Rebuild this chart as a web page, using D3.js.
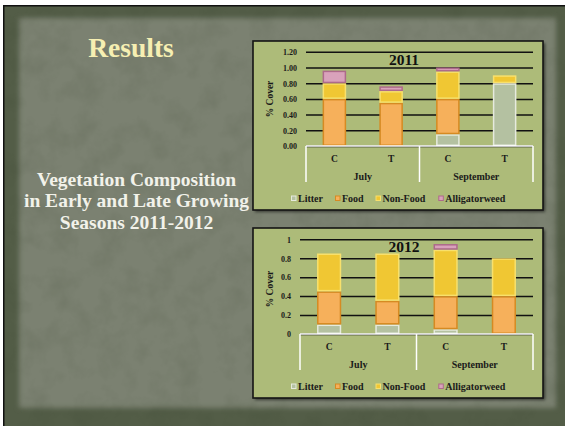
<!DOCTYPE html>
<html><head><meta charset="utf-8">
<script src="https://cdn.jsdelivr.net/npm/d3@7/dist/d3.min.js"></script>
<style>html,body{margin:0;padding:0;background:#fff;overflow:hidden}</style>
</head><body><svg id="c" width="565" height="426"></svg>
<script>
// ---- data ----
const categories = ["C", "T", "C", "T"];
const months = ["July", "September"];
const seriesNames = ["Litter", "Food", "Non-Food", "Alligatorweed"];
const litter2011 = [0, 0, 0.15, 0.80];
const food2011 = [0.60, 0.55, 0.45, 0];
const nonFood2011 = [0.20, 0.15, 0.35, 0.10];
const alligator2011 = [0.16, 0.06, 0.05, 0];
const litter2012 = [0.10, 0.10, 0.05, 0];
const food2012 = [0.35, 0.25, 0.35, 0.40];
const nonFood2012 = [0.40, 0.50, 0.49, 0.40];
const alligator2012 = [0, 0, 0.06, 0];
const ticks2011 = [0, 0.2, 0.4, 0.6, 0.8, 1.0, 1.2];
const tickLabels2011 = ["0.00", "0.20", "0.40", "0.60", "0.80", "1.00", "1.20"];
const ticks2012 = [0, 0.2, 0.4, 0.6, 0.8, 1];
const tickLabels2012 = ["0", "0.2", "0.4", "0.6", "0.8", "1"];
const slideTitle = "Results";
const subtitleLines = ["Vegetation Composition", "in Early and Late Growing", "Seasons 2011-2012"];

// ---- styles ----
const FONT = "'Liberation Serif', 'DejaVu Serif', serif";
const fills = ["#b4c1a1", "#f6b05b", "#f0c733", "#d9a2bb"];
const strokes = ["#e6eade", "#d68a22", "#f8e06c", "#ad6a8b"];

const svg = d3.select("#c");
const defs = svg.append("defs");
const soft = defs.append("filter").attr("id", "soft").attr("color-interpolation-filters", "sRGB")
  .attr("x", "-5%").attr("y", "-5%").attr("width", "110%").attr("height", "110%");
soft.append("feGaussianBlur").attr("stdDeviation", 2.5);
const tex = defs.append("filter").attr("id", "tex").attr("color-interpolation-filters", "sRGB")
  .attr("x", 0).attr("y", 0).attr("width", "100%").attr("height", "100%");
tex.append("feTurbulence").attr("type", "fractalNoise").attr("baseFrequency", 0.04).attr("numOctaves", 4).attr("seed", 9).attr("result", "n");
tex.append("feColorMatrix").attr("in", "n").attr("type", "matrix")
  .attr("values", "0 0 0 0 0.2  0 0 0 0 0.24  0 0 0 0 0.16  1.4 0 0 0 -0.6");
const shadow = defs.append("filter").attr("id", "shd").attr("x", "-10%").attr("y", "-10%").attr("width", "120%").attr("height", "120%");
shadow.append("feGaussianBlur").attr("stdDeviation", 1.5);

// ---- slide background ----
svg.append("rect").attr("width", 565).attr("height", 426).attr("fill", "#fff");
svg.append("rect").attr("x", 3).attr("y", 5).attr("width", 570).attr("height", 430).attr("fill", "#111");
svg.append("rect").attr("x", 4.5).attr("y", 6.5).attr("width", 570).attr("height", 430).attr("fill", "#535d47");
svg.append("rect").attr("x", 19).attr("y", 18).attr("width", 537).attr("height", 390)
  .attr("fill", "#7b8171").attr("filter", "url(#soft)");
svg.append("rect").attr("x", 4.5).attr("y", 6.5).attr("width", 570).attr("height", 430)
  .attr("filter", "url(#tex)").attr("opacity", 0.18);

// ---- slide texts ----
svg.append("text").attr("x", 131).attr("y", 57).attr("text-anchor", "middle")
  .attr("font-family", FONT).attr("font-weight", "bold").attr("font-size", 27.5)
  .attr("fill", "#f6efb2").text(slideTitle);
svg.append("g").selectAll("text").data(subtitleLines).join("text")
  .attr("x", 136.5).attr("y", (d, i) => 185.5 + i * 21.5).attr("text-anchor", "middle")
  .attr("font-family", FONT).attr("font-weight", "bold").attr("font-size", 19.5)
  .attr("fill", "#f2f2ea").text(d => d);

// ---- chart drawing ----
function drawChart(cfg) {
  const g = svg.append("g");
  const b = cfg.box;
  g.append("rect").attr("x", b.x + 2).attr("y", b.y + 2).attr("width", b.w).attr("height", b.h)
    .attr("fill", "rgba(0,0,0,0.55)").attr("filter", "url(#shd)");
  g.append("rect").attr("x", b.x).attr("y", b.y).attr("width", b.w).attr("height", b.h)
    .attr("fill", "#adbb79").attr("stroke", "#151515").attr("stroke-width", 1.6);

  const x = d3.scaleBand().domain(d3.range(categories.length)).range([cfg.x0, cfg.x1])
    .paddingInner(0.585).paddingOuter(0.2925);
  const y = d3.scaleLinear().domain([0, cfg.yMax]).range([cfg.y0, cfg.yTop]);

  // gridlines
  const grid = g.append("g").attr("transform", `translate(${cfg.x0},0)`)
    .call(d3.axisLeft(y).tickValues(cfg.ticks).tickSize(-(cfg.x1 - cfg.x0)).tickFormat(""));
  grid.select(".domain").remove();
  grid.selectAll("line").attr("stroke", "#111").attr("stroke-width", 1.5);

  // tick labels
  const ax = g.append("g").attr("transform", `translate(${cfg.tickX},0)`)
    .call(d3.axisLeft(y).tickValues(cfg.ticks).tickSize(0).tickPadding(0)
      .tickFormat((d, i) => cfg.tickLabels[i]));
  ax.select(".domain").remove();
  ax.selectAll("text").attr("font-family", FONT).attr("font-weight", "bold")
    .attr("font-size", 8).attr("fill", "#1a1a1a").attr("dy", "0.35em");

  // stacked bars
  const rows = categories.map((c, i) => {
    const r = { i: i };
    seriesNames.forEach((s, k) => r[s] = cfg.series[k][i]);
    return r;
  });
  const stacked = d3.stack().keys(seriesNames)(rows);
  stacked.forEach((layer, k) => {
    g.append("g").selectAll("rect").data(layer.filter(d => d[1] - d[0] > 0)).join("rect")
      .attr("x", d => x(d.data.i) + 0.75).attr("width", x.bandwidth() - 1.5)
      .attr("y", d => y(d[1]) + 0.75).attr("height", d => Math.max(0, y(d[0]) - y(d[1]) - 1.5))
      .attr("fill", fills[k]).attr("stroke", strokes[k]).attr("stroke-width", 1.5);
  });

  // category axis (white)
  const wx = g.append("g").attr("stroke", "#fff").attr("stroke-width", 1.5);
  wx.append("line").attr("x1", cfg.x0).attr("x2", cfg.x1).attr("y1", cfg.y0).attr("y2", cfg.y0);
  const step = x.step();
  [cfg.x0, cfg.x0 + 2 * step, cfg.x1].forEach(v => {
    wx.append("line").attr("x1", v).attr("x2", v).attr("y1", cfg.y0).attr("y2", cfg.y0 + 36);
  });
  g.append("g").selectAll("text").data(categories).join("text")
    .attr("x", (d, i) => x(i) + x.bandwidth() / 2).attr("y", cfg.y0 + 16)
    .attr("text-anchor", "middle").attr("font-family", FONT).attr("font-weight", "bold")
    .attr("font-size", 9.5).attr("fill", "#1a1a1a").text(d => d);
  g.append("g").selectAll("text").data(months).join("text")
    .attr("x", (d, i) => cfg.x0 + step * (2 * i + 1)).attr("y", cfg.y0 + 34)
    .attr("text-anchor", "middle").attr("font-family", FONT).attr("font-weight", "bold")
    .attr("font-size", 10).attr("fill", "#1a1a1a").text(d => d);

  // title
  g.append("text").attr("x", 404).attr("y", cfg.titleY).attr("text-anchor", "middle")
    .attr("font-family", FONT).attr("font-weight", "bold").attr("font-size", 15.5)
    .attr("fill", "#111").text(cfg.title);

  // y title
  g.append("text").attr("transform", `translate(${273},${cfg.yTitleY}) rotate(-90)`)
    .attr("text-anchor", "middle").attr("font-family", FONT).attr("font-weight", "bold")
    .attr("font-size", 9.5).attr("fill", "#1a1a1a").text("% Cover");

  // legend
  const legX = [291, 335, 375.5, 438.3];
  const lg = g.append("g").selectAll("g").data(seriesNames).join("g")
    .attr("transform", (d, i) => `translate(${legX[i]},${b.y + b.h - 14.5})`);
  lg.append("rect").attr("x", 0.5).attr("y", 0.5).attr("width", 4.5).attr("height", 4.5)
    .attr("fill", (d, i) => fills[i]).attr("stroke", (d, i) => strokes[i]).attr("stroke-width", 1);
  lg.append("text").attr("x", 7).attr("y", 6.5).attr("font-family", FONT).attr("font-weight", "bold")
    .attr("font-size", 10).attr("fill", "#1a1a1a").text(d => d);
}

drawChart({
  box: { x: 253, y: 41, w: 290, h: 169 }, x0: 306, x1: 533, y0: 146, yTop: 51.8, yMax: 1.2,
  ticks: ticks2011, tickLabels: tickLabels2011, tickX: 297, title: "2011", titleY: 64.5, yTitleY: 99,
  series: [litter2011, food2011, nonFood2011, alligator2011]
});
drawChart({
  box: { x: 253, y: 228, w: 290, h: 170 }, x0: 300, x1: 533, y0: 334, yTop: 239.3, yMax: 1,
  ticks: ticks2012, tickLabels: tickLabels2012, tickX: 291, title: "2012", titleY: 251.5, yTitleY: 289,
  series: [litter2012, food2012, nonFood2012, alligator2012]
});
</script></body></html>
